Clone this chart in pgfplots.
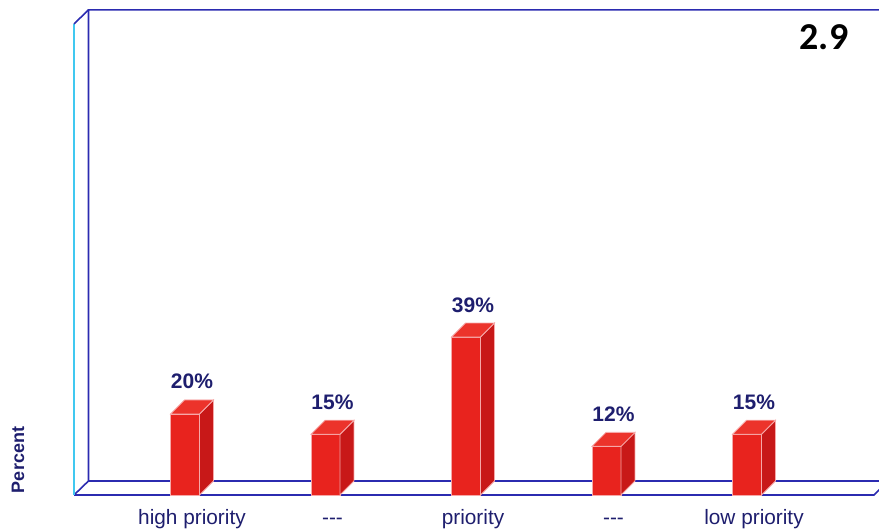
\documentclass[border=0pt]{standalone}
\usepackage{pgfplots}
\pgfplotsset{compat=1.18}
\usepackage{fontspec}
\setmainfont{Liberation Sans}
\newfontfamily\carlito{Carlito}
\definecolor{barfront}{HTML}{E8231E}
\definecolor{barside}{HTML}{C81818}
\definecolor{bartop}{HTML}{EC332B}
\definecolor{baredge}{HTML}{F6A8A8}
\definecolor{frameblue}{HTML}{2B2BB0}
\definecolor{framecyan}{HTML}{40C8F0}
\definecolor{navy}{HTML}{1E1E6E}
\newcommand{\threedbar}[2]{%
  \pgfmathsetmacro\xl{#1-0.103}%
  \pgfmathsetmacro\xr{#1+0.103}%
  \pgfmathsetmacro\xlb{#1-0.103+0.0996}%
  \pgfmathsetmacro\xrb{#1+0.103+0.0996}%
  \pgfmathsetmacro\vt{#2+3.457}%
  \addplot[fill=barside, draw=baredge, line width=0.4pt] coordinates {(\xr,0) (\xrb,3.457) (\xrb,\vt) (\xr,#2)} -- cycle;
  \addplot[fill=bartop, draw=baredge, line width=0.4pt] coordinates {(\xl,#2) (\xr,#2) (\xrb,\vt) (\xlb,\vt)} -- cycle;
}
\begin{document}
\begin{tikzpicture}
\begin{axis}[
  name=ax,
  scale only axis,
  width=439.5pt, height=250pt,
  xmin=-1.3167, xmax=4.9395,
  ymin=-1.235, ymax=122.2,
  axis line style={draw=none},
  major tick length=0pt,
  ytick=\empty,
  xtick={0,1,2,3,4},
  xticklabels={high priority,\mbox{-}\mbox{-}\mbox{-},priority,\mbox{-}\mbox{-}\mbox{-},low priority},
  xticklabel style={font=\fontsize{10.4}{12}\selectfont, text=navy, anchor=base, yshift=-12.5pt, xshift=3.5pt},
  ylabel={Percent},
  ylabel style={at={(rel axis cs:0.0205,0.08)}, anchor=center, font=\bfseries\fontsize{9}{11}\selectfont, text=navy},
  title={2.9},
  title style={at={(rel axis cs:0.9375,0.902)}, anchor=center, font=\carlito\bfseries\fontsize{19}{22}\selectfont, text=black},
]
% frame
\addplot[frameblue, line width=0.8pt] coordinates {(-0.79,0) (4.904,0) (5.004,3.457)};
\addplot[frameblue, line width=0.8pt] coordinates {(-0.687,3.457) (5.2,3.457)};
\addplot[frameblue, line width=0.8pt] coordinates {(-0.79,0) (-0.687,3.457) (-0.687,119.75) (5.2,119.75)};
\addplot[framecyan, line width=0.8pt] coordinates {(-0.79,0) (-0.79,116.3)};
\addplot[frameblue, line width=0.8pt] coordinates {(-0.79,116.3) (-0.687,119.75)};
% bars (front faces)
\addplot[ybar, bar width=0.206, fill=barfront, draw=baredge, line width=0.4pt,
  nodes near coords, point meta=explicit symbolic,
  every node near coord/.append style={font=\bfseries\fontsize{10.5}{12}\selectfont, text=navy, anchor=base, yshift=12.5pt, xshift=3.5pt}]
  coordinates {(0,20) [20\%] (1,15) [15\%] (2,39) [39\%] (3,12) [12\%] (4,15) [15\%]};
\threedbar{0}{20}
\threedbar{1}{15}
\threedbar{2}{39}
\threedbar{3}{12}
\threedbar{4}{15}
\end{axis}
\pgfresetboundingbox
\path[use as bounding box] (ax.north west) rectangle ([yshift=-265.5pt]ax.north east);
\end{tikzpicture}
\end{document}
